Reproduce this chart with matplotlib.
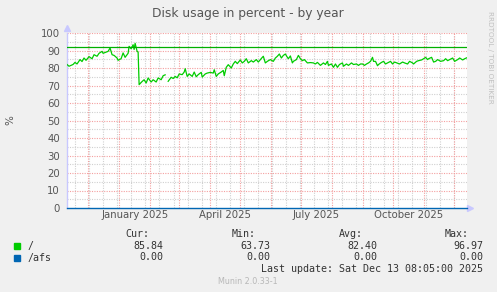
import numpy as np
import matplotlib
matplotlib.use('Agg')
import matplotlib.pyplot as plt
import matplotlib.dates as mdates
import pandas as pd

# days since 2024-11-09 16:00 and disk usage of "/" in percent
days = [0, 2, 6, 8, 10, 13, 15, 17, 19, 22, 25, 27, 30, 32, 35, 36, 39, 41, 43, 45,
        47, 50, 51, 54, 56, 58, 61, 62, 64, 66, 67, 68, 70, 71, 72, 75, 77, 79, 81, 84,
        86, 89, 91, 94, 96, 98, 99, 101, 104, 106, 108, 110, 112, 115, 117, 118, 120, 122, 125,
        127, 129, 131, 134, 135, 138, 140, 143, 146, 147, 149, 151, 154, 156, 157, 159, 161,
        164, 166, 168, 170, 173, 175, 177, 179, 181, 184, 186, 189, 191, 193, 195, 196, 198,
        200, 203, 206, 208, 210, 212, 214, 216, 218, 220, 221, 223, 225, 226, 229, 231, 233,
        235, 237, 240, 243, 246, 248, 250, 253, 256, 258, 260, 261, 264, 266, 268, 270, 272,
        275, 276, 279, 281, 284, 286, 289, 291, 293, 295, 297, 299, 301, 303, 305, 306, 308,
        310, 311, 314, 316, 318, 320, 323, 325, 327, 330, 332, 335, 337, 340, 342, 345, 346,
        349, 351, 354, 356, 358, 360, 361, 364, 366, 368, 370, 373, 376, 378, 380, 382, 385,
        387, 390, 392, 395, 397, 399]
root = [82, 81, 82, 83.2, 82.3, 84.8, 83.7, 85.7, 84.4, 86.5, 85.3, 87.6, 86.7, 88.4, 89.5, 88.4, 89.1, 89.5, 91.4, 87.6,
        87.2, 85.7, 84.4, 85.3, 88.6, 86.1, 88.4, 92.4, 91, 93.3, 90.6, 94.1, 89.5, 89.1, 70.5, 72.3, 73.3, 71.4, 74.3, 72,
        73.3, 72, 74.3, 73.3, 75.6, 76.1, np.nan, 72.4, 74.7, 74, 75.2, 74.4, 76.6, 76.2, 77.7, 79.6, 75.2, 76.6, 75.2,
        77.7, 75, 76.2, 77.5, 74.8, 76.6, 77.1, 77.5, 77.1, 79, 75.2, 76.6, 77.7, 78.6, 75.6, 80.4, 81.9,
        80, 82.3, 83.8, 82.5, 84.6, 82.9, 83.8, 85.3, 82.9, 84.2, 83.4, 84.8, 83.4, 84.8, 86.1, 86.7, 82.9,
        83.8, 84.8, 83.8, 85.7, 86.7, 88, 85.7, 87.2, 88, 86.1, 85.3, 86.9, 82.9, 83.8, 84.8, 87.2, 85.3,
        84.2, 84.8, 82.9, 83.1, 82.9, 82.3, 83.2, 81.5, 82.9, 82, 83.8, 81.5, 82.3, 80.4, 82.3, 80.4, 82,
        82.9, 81, 82.3, 81.5, 82.9, 82, 82.3, 81.5, 82.3, 82.3, 81.5, 82.3, 82.9, 83.8, 86.1, 83.8, 83.8,
        81.3, 82, 83.2, 83.8, 82.3, 82.9, 83.8, 82.3, 83.4, 82.7, 82.3, 83.4, 82.9, 82.3, 83.8, 82.9, 82.3,
        83.8, 84.2, 84.6, 85.3, 86.1, 84.8, 85.3, 86.1, 83.4, 83.8, 84.8, 83.8, 84.2, 85.3, 84.2, 84.8, 85.7,
        83.8, 84.8, 85.7, 84.6, 85.3, 85.8]
afs = [0.0] * len(days)
warning = 92

start = pd.Timestamp('2024-11-09 16:00')
end = pd.Timestamp('2025-12-14 00:00')
dates = [start + pd.Timedelta(days=d) for d in days]

month_labels = ['January 2025', 'April 2025', 'July 2025', 'October 2025']
month_label_dates = ['2025-01-16 12:00', '2025-04-16', '2025-07-16 12:00', '2025-10-16 12:00']

legend_names = ['/', '/afs']
legend_colors = ['#00CC00', '#0066B3']
cur = [85.84, 0.00]
vmin = [63.73, 0.00]
avg = [82.40, 0.00]
vmax = [96.97, 0.00]

W, H = 497, 292
fig = plt.figure(figsize=(W / 100, H / 100), dpi=100, facecolor='#F0F0F0')
ax = fig.add_axes([67 / W, (H - 208) / H, 400 / W, 175 / H])
ax.set_facecolor('white')

# grid
for m in pd.date_range('2024-12-01', end, freq='MS'):
    ax.axvline(m, color='#F4A0A0', lw=0.8, dashes=(1, 1.2), zorder=1)
for w in pd.date_range('2024-11-18', end, freq='14D'):
    ax.axvline(w, color='#D0D0D0', lw=0.8, dashes=(1, 1.2), zorder=0.5)
for v in range(10, 101, 10):
    ax.axhline(v, color='#F4A0A0', lw=0.8, dashes=(1, 1.2), zorder=1)
for v in range(5, 100, 10):
    ax.axhline(v, color='#D0D0D0', lw=0.8, dashes=(1, 1.2), zorder=0.5)

ax.plot(dates, root, color=legend_colors[0], lw=0.9, zorder=3)
ax.plot([start, end], [warning, warning], color='#00B000', lw=0.9, zorder=3)
ax.plot([start] + dates + [end], [0] + afs + [0], color=legend_colors[1], lw=1.0, zorder=3, clip_on=False)

ax.set_xlim(start, end)
ax.set_ylim(0, 100)
ax.set_yticks(range(0, 101, 10))
ax.set_xticks([pd.Timestamp(d) for d in month_label_dates])
ax.set_xticklabels(month_labels)
ax.tick_params(axis='both', length=0, labelsize=7.3, colors='#555555')
ax.tick_params(axis='y', pad=5)
ax.tick_params(axis='x', pad=1.5)
for s in ['top', 'right', 'bottom']:
    ax.spines[s].set_visible(False)
ax.spines['left'].set_color('#C8C8FF')
ax.spines['left'].set_linewidth(1)

# axis arrows
ax.plot([0], [1.03], marker='^', ms=4, color='#C8C8FF', transform=ax.transAxes, clip_on=False)
ax.plot([1.008], [0], marker='>', ms=4, color='#C8C8FF', transform=ax.transAxes, clip_on=False)

fig.text(248 / W, 1 - 13 / H, 'Disk usage in percent - by year', ha='center', va='center',
         fontsize=8.8, color='#555555')
fig.text(10 / W, 1 - 120 / H, '%', rotation=90, ha='center', va='center', fontsize=7.5, color='#555555')
fig.text(490 / W, 1 - 57 / H, 'RRDTOOL / TOBI OETIKER', rotation=270, ha='center', va='center',
         fontsize=5.2, color='#C0C0C0')

mono = dict(family='DejaVu Sans Mono', fontsize=7.2, color='#333333', va='center')
cols_x = [163, 270, 377, 483]
headers = ['Cur:', 'Min:', 'Avg:', 'Max:']
for hx, h in zip(cols_x, headers):
    fig.text((hx - 14) / W, 1 - 234 / H, h, ha='right', **mono)
for i, name in enumerate(legend_names):
    y = 1 - (246 + 11.5 * i) / H
    fig.patches.append(plt.Rectangle((14 / W, y - 3 / H), 6 / W, 6 / H, color=legend_colors[i],
                                     transform=fig.transFigure, figure=fig))
    fig.text(27 / W, y, name, ha='left', **mono)
    for cx, val in zip(cols_x, [cur[i], vmin[i], avg[i], vmax[i]]):
        fig.text(cx / W, y, f'{val:.2f}', ha='right', **mono)
fig.text(483 / W, 1 - 269 / H, 'Last update: Sat Dec 13 08:05:00 2025', ha='right', **mono)
fig.text(248 / W, 1 - 281 / H, 'Munin 2.0.33-1', ha='center', va='center', fontsize=5.8, color='#B8B8B8')

fig.savefig('out.png', dpi=100, facecolor=fig.get_facecolor())
